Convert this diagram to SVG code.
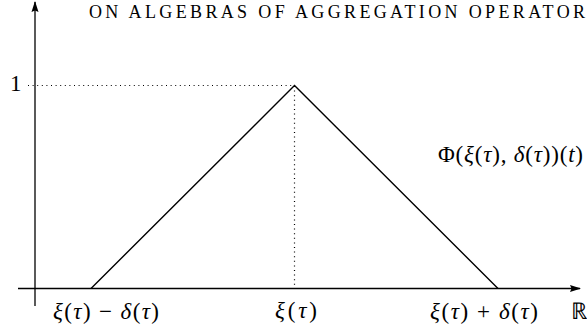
<svg xmlns="http://www.w3.org/2000/svg" width="587" height="336" viewBox="0 0 587 336">
<style>
.ax{stroke:#000;stroke-width:1.3;fill:none}
.ln{stroke:#000;stroke-width:1.4;fill:none}
.dot{stroke:#000;stroke-width:1.2;fill:none;stroke-dasharray:1 3.6}
.t{font-family:"Liberation Serif",serif;font-size:23px;fill:#000}
.i{font-style:italic}
.hd{font-family:"Liberation Serif",serif;font-size:18px;fill:#000}
</style>
<defs>
<marker id="ar" markerWidth="11" markerHeight="8" refX="10" refY="4" orient="auto" markerUnits="userSpaceOnUse">
<path d="M0,0.5 L11,4 L0,7.5 L1.5,4 Z" fill="#000"/>
</marker>
</defs>
<g id="title"><text class="hd" x="89" y="18" textLength="496" lengthAdjust="spacing">ON ALGEBRAS OF AGGREGATION OPERATOR</text></g>
<g id="connectors">
<line class="ax" x1="35" y1="306" x2="35" y2="2" marker-end="url(#ar)"/>
<line class="ax" x1="18" y1="288.5" x2="580" y2="288.5" marker-end="url(#ar)"/>
<line class="dot" x1="28" y1="85.5" x2="294" y2="85.5"/>
<line class="dot" x1="294.5" y1="86" x2="294.5" y2="288"/>
<polyline class="ln" points="91,288.5 294.5,85.5 498,288.5"/>
</g>
<g id="label-one"><text class="t" x="10" y="91">1</text></g>
<g id="label-left"><text class="t" x="53" y="319" textLength="106" lengthAdjust="spacing"><tspan class="i">ξ</tspan>(<tspan class="i">τ</tspan>) − <tspan class="i">δ</tspan>(<tspan class="i">τ</tspan>)</text></g>
<g id="label-mid"><text class="t" x="275" y="318" textLength="42" lengthAdjust="spacing"><tspan class="i">ξ</tspan>(<tspan class="i">τ</tspan>)</text></g>
<g id="label-right"><text class="t" x="430" y="319" textLength="108" lengthAdjust="spacing"><tspan class="i">ξ</tspan>(<tspan class="i">τ</tspan>) + <tspan class="i">δ</tspan>(<tspan class="i">τ</tspan>)</text></g>
<g id="label-R"><text class="t" x="571" y="319">ℝ</text></g>
<g id="label-phi"><text class="t" x="438" y="162" textLength="145" lengthAdjust="spacing">Φ(<tspan class="i">ξ</tspan>(<tspan class="i">τ</tspan>), <tspan class="i">δ</tspan>(<tspan class="i">τ</tspan>))(<tspan class="i">t</tspan>)</text></g>
</svg>
